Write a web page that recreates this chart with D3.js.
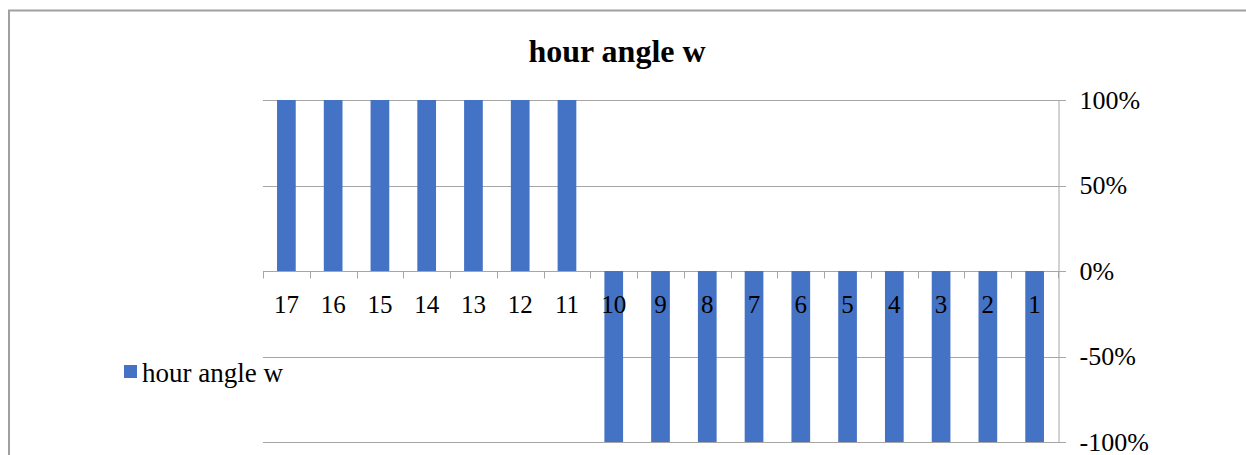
<!DOCTYPE html>
<html>
<head>
<meta charset="utf-8">
<script src="https://cdn.jsdelivr.net/npm/d3@7"></script>
<style>
  html, body { margin: 0; padding: 0; background: #fff; }
  svg { display: block; }
  text { font-family: "Liberation Serif", "Times New Roman", serif; fill: #000; }
</style>
</head>
<body>
<svg id="chart" width="1246" height="455"></svg>
<script>
// Hour labels, left to right
const categories = ["17", "16", "15", "14", "13", "12", "11", "10", "9", "8", "7", "6", "5", "4", "3", "2", "1"];
// Share of each hour's hour angle (100% stacked, one series)
const hourAngleShare = [1, 1, 1, 1, 1, 1, 1, -1, -1, -1, -1, -1, -1, -1, -1, -1, -1];
const yTicks = [1, 0.5, 0, -0.5, -1];
const yTickLabels = ["100%", "50%", "0%", "-50%", "-100%"];
const seriesName = "hour angle w";
const titleText = "hour angle w";

const svg = d3.select("#chart");
const W = 1246, H = 455;
const plot = { left: 263, right: 1058, top: 100, bottom: 442 };
const gridColor = "#a6a6a6";
const barColor = "#4472c4";

// Chart frame (left and top edges show; right/bottom run past the window)
svg.append("rect")
  .attr("x", 9).attr("y", 10.5)
  .attr("width", W + 20).attr("height", H + 20)
  .attr("fill", "none").attr("stroke", "#a0a0a0").attr("stroke-width", 2);

const x = d3.scaleBand()
  .domain(categories)
  .range([plot.left, plot.right])
  .paddingInner(0.6).paddingOuter(0.3);

const y = d3.scaleLinear().domain([-1, 1]).range([plot.bottom, plot.top]);

// Horizontal gridlines, extended past the right axis as outer ticks
svg.append("g").selectAll("line").data(yTicks).join("line")
  .attr("x1", plot.left).attr("x2", plot.right + 8)
  .attr("y1", d => Math.round(y(d)) + 0.5).attr("y2", d => Math.round(y(d)) + 0.5)
  .attr("stroke", gridColor).attr("stroke-width", 1);

// Bars
svg.append("g").selectAll("rect").data(hourAngleShare).join("rect")
  .attr("x", (d, i) => x(categories[i]))
  .attr("width", x.bandwidth())
  .attr("y", d => y(Math.max(0, d)))
  .attr("height", d => Math.abs(y(d) - y(0)))
  .attr("fill", barColor);

// Right value axis
const yAxis = d3.axisRight(y)
  .tickValues(yTicks)
  .tickSize(0)
  .tickPadding(21)
  .tickFormat((d, i) => yTickLabels[i]);
const gy = svg.append("g")
  .attr("transform", `translate(${plot.right + 0.5},0)`)
  .call(yAxis);
gy.select(".domain").attr("stroke", gridColor);
gy.selectAll("text")
  .style("font-family", '"Liberation Serif", "Times New Roman", serif')
  .style("font-size", "26px")
  .attr("dy", "0.32em");

// Category axis along the zero line, ticks at band boundaries
const zeroY = Math.round(y(0)) + 0.5;
const boundaries = d3.range(categories.length + 1).map(i => plot.left + i * (plot.right - plot.left) / categories.length);
svg.append("g").selectAll("line").data(boundaries).join("line")
  .attr("x1", d => Math.round(d) + 0.5).attr("x2", d => Math.round(d) + 0.5)
  .attr("y1", zeroY).attr("y2", zeroY + 7)
  .attr("stroke", gridColor);

svg.append("g").selectAll("text").data(categories).join("text")
  .attr("x", d => x(d) + x.bandwidth() / 2)
  .attr("y", zeroY + 41)
  .attr("text-anchor", "middle")
  .style("font-size", "25px")
  .text(d => d);

// Title
svg.append("text")
  .attr("x", 617).attr("y", 62)
  .attr("text-anchor", "middle")
  .style("font-size", "32px")
  .style("font-weight", "bold")
  .text(titleText);

// Legend
svg.append("rect")
  .attr("x", 124).attr("y", 365).attr("width", 13).attr("height", 13)
  .attr("fill", barColor);
svg.append("text")
  .attr("x", 142).attr("y", 382)
  .style("font-size", "27px")
  .text(seriesName);
</script>
</body>
</html>
